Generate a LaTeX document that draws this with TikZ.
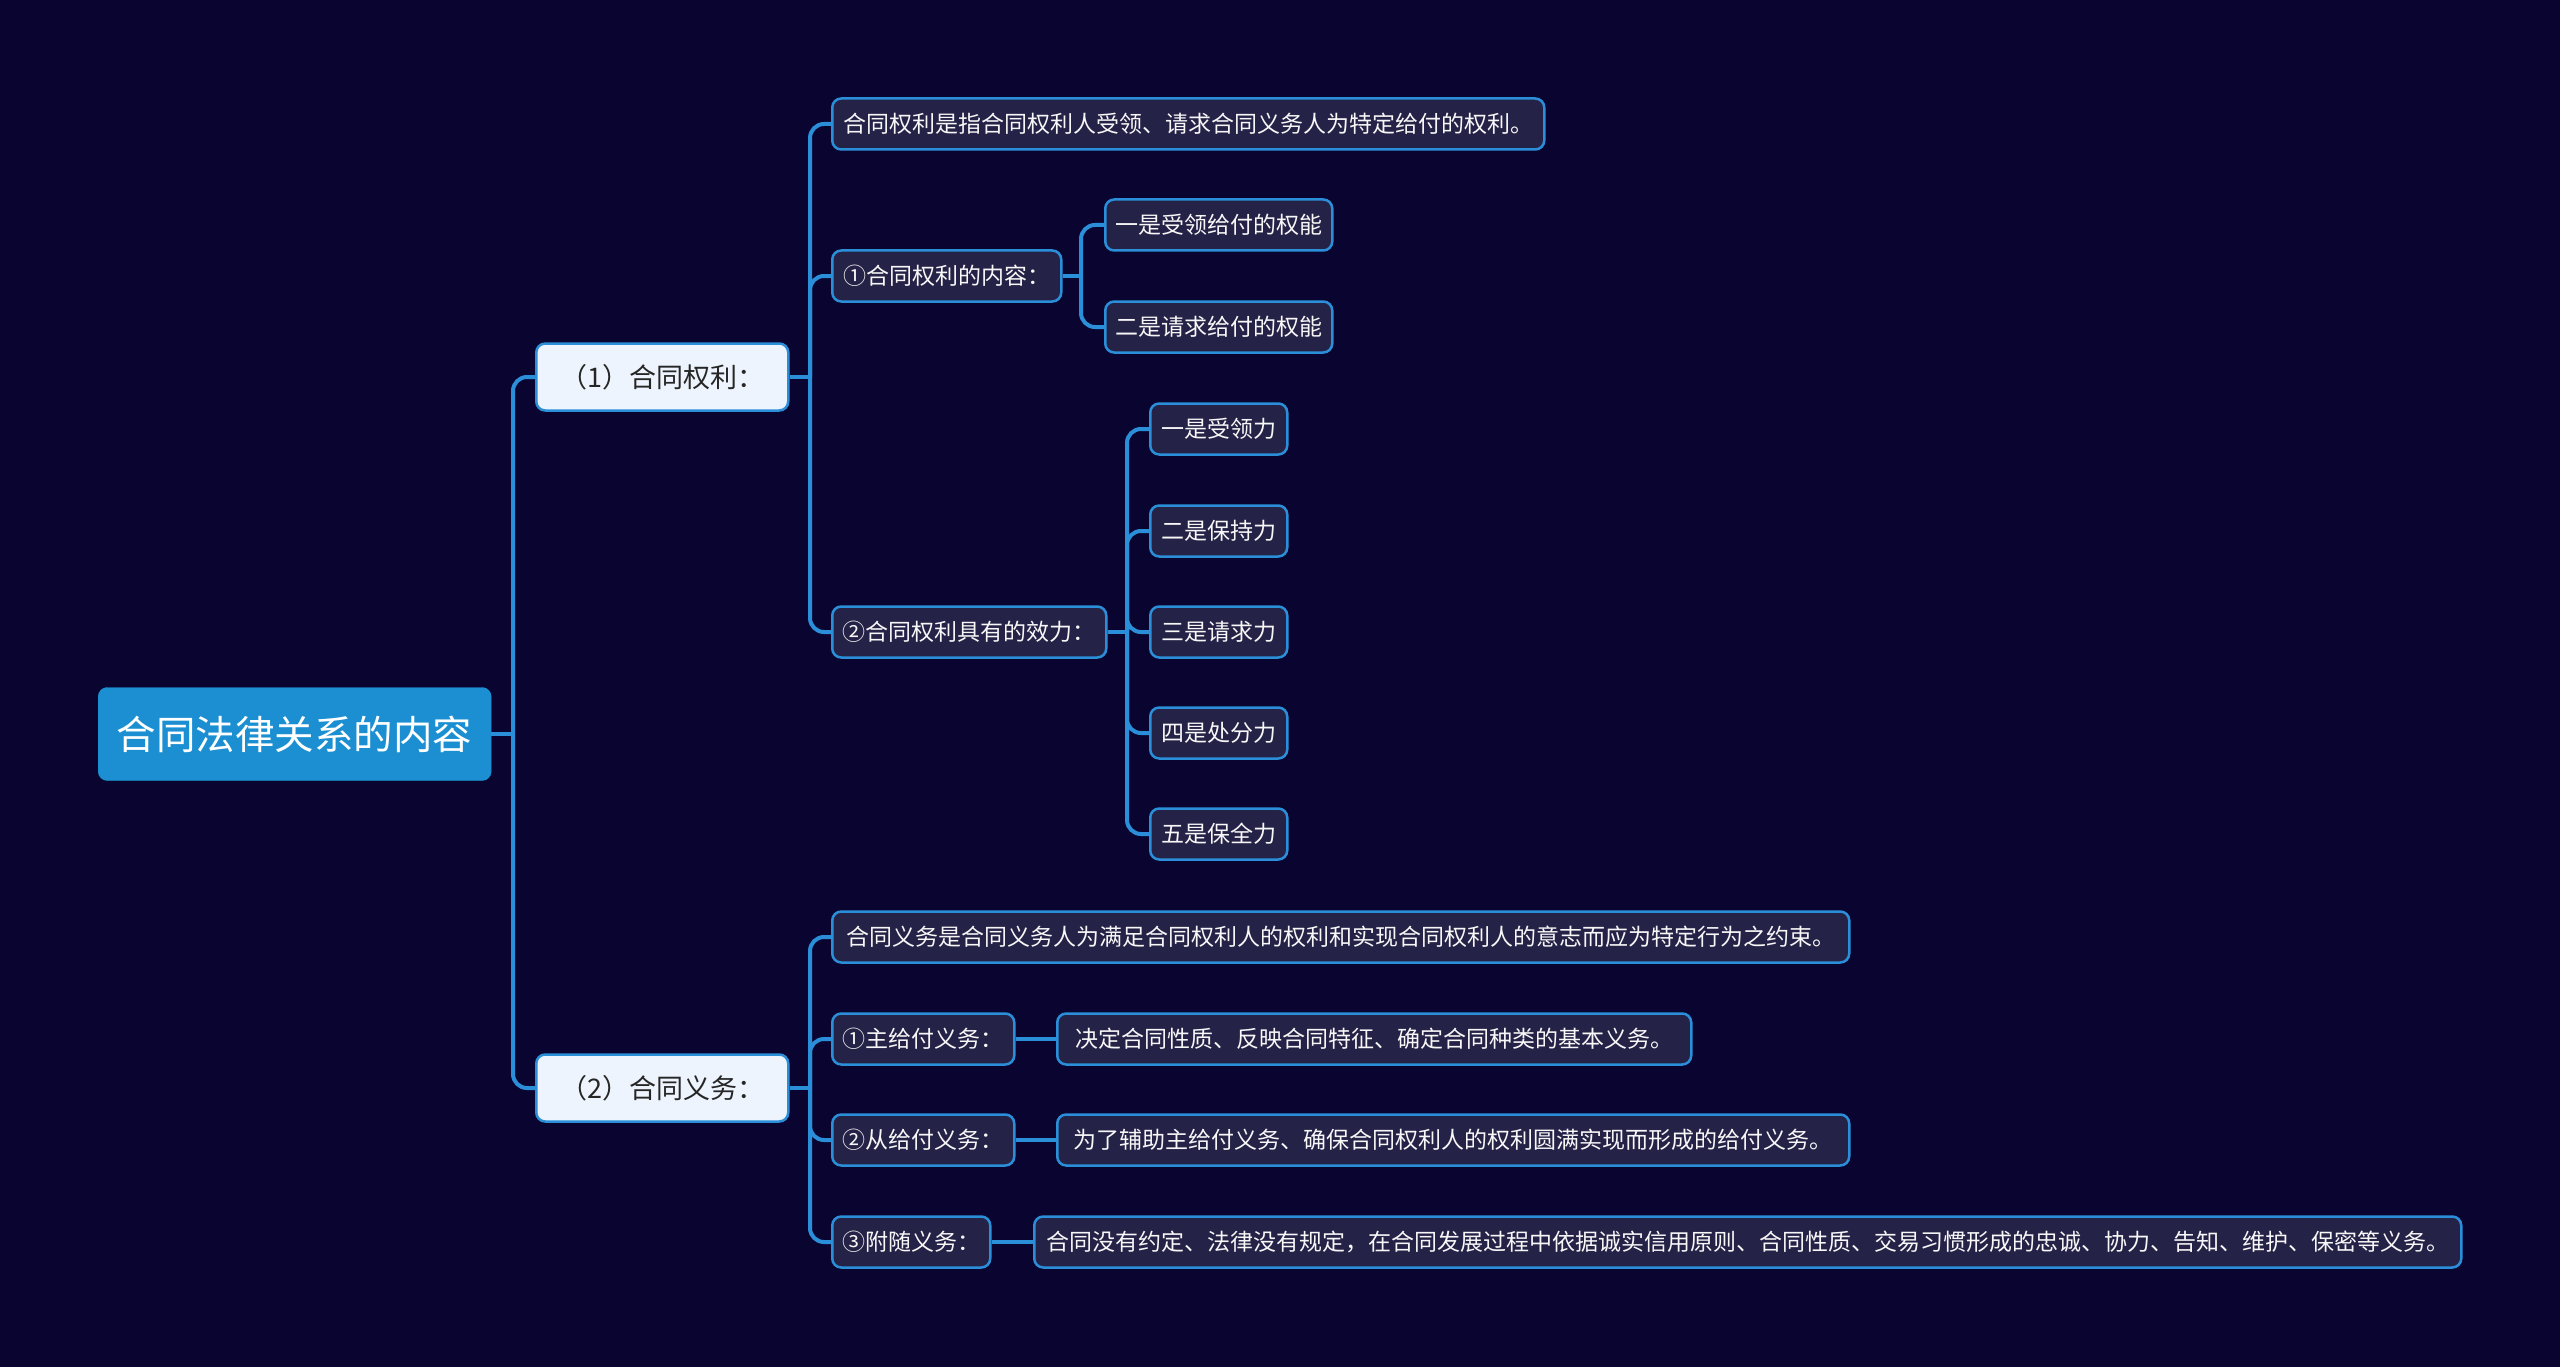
\documentclass[tikz,border=0pt]{standalone}
\usepackage{fontspec}
\setmainfont{Noto Sans CJK SC}
\definecolor{bgc}{HTML}{0A0530}
\definecolor{linec}{HTML}{2A8ED8}
\definecolor{rootc}{HTML}{1B8FD1}
\definecolor{lonec}{HTML}{EDF4FD}
\definecolor{leafc}{HTML}{252247}
\definecolor{txtc}{HTML}{F7F7F7}
\tikzset{
  rootbox/.style={fill=rootc, draw=rootc, rounded corners=9pt, minimum height=93pt, minimum width=393pt, inner sep=0pt, text=white, font=\fontsize{39.5}{46}\selectfont, anchor=west},
  lonebox/.style={fill=lonec, draw=linec, line width=2.5pt, rounded corners=9pt, minimum height=67pt, minimum width=252pt, inner sep=0pt, text=black!85, font=\fontsize{27}{32}\selectfont, anchor=west},
  leafbox/.style={fill=leafc, draw=linec, line width=2.5pt, rounded corners=9pt, minimum height=51pt, inner sep=0pt, text=txtc, font=\fontsize{23}{28}\selectfont, anchor=west},
  conn/.style={draw=linec, line width=4pt, rounded corners=14pt}
}
\begin{document}
\begin{tikzpicture}[x=1pt,y=-1pt]
\fill[bgc] (0,0) rectangle (2560,1367);
\useasboundingbox (0,0) rectangle (2560,1367);

% root and first level
\node[rootbox] (root) at (98,734) {合同法律关系的内容};
\node[lonebox] (qa) at (535,377) {（1）合同权利：};
\node[lonebox] (qb) at (535,1088) {（2）合同义务：};

% children of (1)
\node[leafbox, minimum width=712pt] (a1) at (831,124) {合同权利是指合同权利人受领、请求合同义务人为特定给付的权利。};
\node[leafbox, minimum width=229pt] (a2) at (831,276) {①合同权利的内容：};
\node[leafbox, minimum width=227pt] (a2x) at (1104,225) {一是受领给付的权能};
\node[leafbox, minimum width=227pt] (a2y) at (1104,327) {二是请求给付的权能};
\node[leafbox, minimum width=274pt] (a3) at (831,632) {②合同权利具有的效力：};
\node[leafbox, minimum width=137pt] (e1) at (1149,429) {一是受领力};
\node[leafbox, minimum width=137pt] (e2) at (1149,531) {二是保持力};
\node[leafbox, minimum width=137pt] (e3) at (1149,632) {三是请求力};
\node[leafbox, minimum width=137pt] (e4) at (1149,733) {四是处分力};
\node[leafbox, minimum width=137pt] (e5) at (1149,834) {五是保全力};

% children of (2)
\node[leafbox, minimum width=1017pt] (b1) at (831,937) {合同义务是合同义务人为满足合同权利人的权利和实现合同权利人的意志而应为特定行为之约束。};
\node[leafbox, minimum width=182pt] (b2) at (831,1039) {①主给付义务：};
\node[leafbox, minimum width=634pt] (b2c) at (1056,1039) {决定合同性质、反映合同特征、确定合同种类的基本义务。};
\node[leafbox, minimum width=182pt] (b3) at (831,1140) {②从给付义务：};
\node[leafbox, minimum width=792pt] (b3c) at (1056,1140) {为了辅助主给付义务、确保合同权利人的权利圆满实现而形成的给付义务。};
\node[leafbox, minimum width=158pt] (b4) at (831,1242) {③附随义务：};
\node[leafbox, minimum width=1427pt] (b4c) at (1033,1242) {合同没有约定、法律没有规定，在合同发展过程中依据诚实信用原则、合同性质、交易习惯形成的忠诚、协力、告知、维护、保密等义务。};

% junction coordinates
\coordinate (j0) at (513,734);
\coordinate (ja) at (810,377);
\coordinate (jb) at (810,1088);
\coordinate (ja2) at (1081,276);
\coordinate (ja3) at (1127,632);

% connectors
\draw[conn] (root.east) -- (j0);
\draw[conn] (j0) |- (qa.west);
\draw[conn] (j0) |- (qb.west);
\draw[conn] (qa.east) -- (ja);
\draw[conn] (ja) |- (a1.west);
\draw[conn] (ja) |- (a2.west);
\draw[conn] (ja) |- (a3.west);
\draw[conn] (a2.east) -- (ja2);
\draw[conn] (ja2) |- (a2x.west);
\draw[conn] (ja2) |- (a2y.west);
\draw[conn] (a3.east) -- (ja3);
\draw[conn] (ja3) |- (e1.west);
\draw[conn] (ja3) |- (e2.west);
\draw[conn] (ja3) |- (e3.west);
\draw[conn] (ja3) |- (e4.west);
\draw[conn] (ja3) |- (e5.west);
\draw[conn] (qb.east) -- (jb);
\draw[conn] (jb) |- (b1.west);
\draw[conn] (jb) |- (b2.west);
\draw[conn] (jb) |- (b3.west);
\draw[conn] (jb) |- (b4.west);
\draw[conn] (b2.east) -- (b2c.west);
\draw[conn] (b3.east) -- (b3c.west);
\draw[conn] (b4.east) -- (b4c.west);
\end{tikzpicture}
\end{document}
